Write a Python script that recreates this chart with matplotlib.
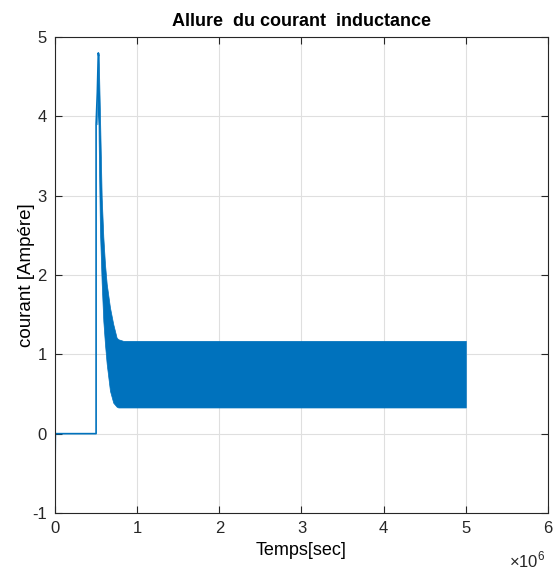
import matplotlib.pyplot as plt
import numpy as np

plt.rcParams['font.family'] = ['Liberation Sans', 'DejaVu Sans']
plt.rcParams['mathtext.fontset'] = 'custom'
plt.rcParams['mathtext.rm'] = 'Liberation Sans'
plt.rcParams['axes.unicode_minus'] = False

# temps en unités de 1e6 s
t_line = [0.0, 0.004, 0.5, 0.5, 0.515, 0.527, 0.531]
i_line = [-0.48, 0.0, 0.0, 3.9, 4.3, 4.8, 4.77]

# enveloppe de l'oscillation (haute / basse)
t_env = [0.515, 0.527, 0.531, 0.547, 0.568, 0.588, 0.608, 0.629, 0.669, 0.709, 0.75, 0.77, 0.83, 5.0]
i_haut = [4.3, 4.8, 4.77, 4.03, 2.98, 2.48, 2.14, 1.89, 1.59, 1.38, 1.21, 1.19, 1.17, 1.17]
i_bas = [3.9, 4.2, 3.7, 2.56, 1.9, 1.42, 1.13, 0.88, 0.54, 0.39, 0.34, 0.33, 0.33, 0.33]

bleu = '#0072BD'

fig = plt.figure(figsize=(5.58, 5.74), dpi=100)
ax = fig.add_axes([0.0986, 0.1063, 0.8834, 0.8292])

ax.plot(np.array(t_line) * 1e6, i_line, color=bleu, lw=1.2)
ax.fill_between(np.array(t_env) * 1e6, i_bas, i_haut, color=bleu, lw=0.5, edgecolor=bleu)

ax.set_xlim(0, 6e6)
ax.set_ylim(-1, 5)
ax.set_xticks(np.arange(0, 7) * 1e6)
ax.set_xticklabels([str(k) for k in range(7)])
ax.set_yticks(range(-1, 6))

ax.grid(True, color='#dfdfdf', lw=0.8)
ax.set_axisbelow(True)
ax.tick_params(direction='in', top=True, right=True, labelsize=12, length=5, colors='#262626', pad=6)
for s in ax.spines.values():
    s.set_color('#262626')
    s.set_linewidth(0.8)

ax.set_title('Allure  du courant  inductance', fontsize=13, fontweight='bold', pad=8)
ax.set_xlabel('Temps[sec]', fontsize=13, labelpad=4)
ax.set_ylabel('courant [Ampére]', fontsize=13.5, labelpad=-2)
ax.text(0.995, -0.1, r'$\times10^{6}$', transform=ax.transAxes, ha='right', va='center', fontsize=12, color='#262626')

fig.savefig('out.png', dpi=100)
